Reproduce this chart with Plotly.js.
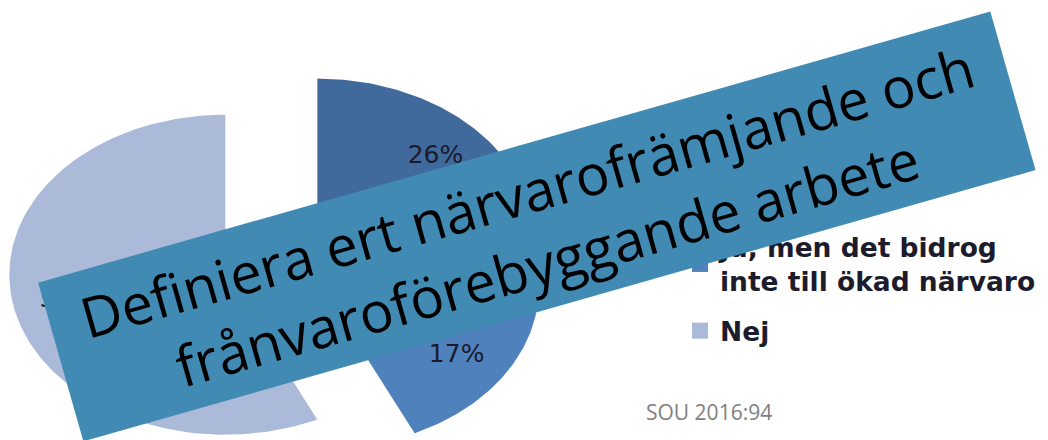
<!DOCTYPE html>
<html><head><meta charset="utf-8">
<script src="https://cdn.plot.ly/plotly-3.0.1.min.js"></script>
<style>html,body{margin:0;padding:0;background:#fff;}#chart{width:1048px;height:440px;}</style>
</head><body><div id="chart"></div>
<script>
const categories = ["Ja, och det bidrog till ökad närvaro", "Ja, men det bidrog inte till ökad närvaro", "Nej"];
const legendLabels = ["Ja, och det bidrog<br>till ökad närvaro", "Ja, men det bidrog<br>inte till ökad närvaro", "Nej"];
const legendBoxes = ["legend2", "legend", "legend"];
const values = [26, 17, 57];
const sliceColors = ["#406A9B", "#4F81BD", "#AABAD8"];
const bannerText = "Definiera ert närvarofrämjande och<br>frånvaroförebyggande arbete";
const sourceText = "SOU 2016:94";

const PULL = 0.25, LABEL_R = 0.75;
const total = values.reduce((a, b) => a + b, 0);
let cum = 0;
const traces = [];
const lx = [], ly = [], lt = [];
values.forEach((v, i) => {
  const a0 = cum / total * 2 * Math.PI; cum += v; const a1 = cum / total * 2 * Math.PI;
  const mid = (a0 + a1) / 2;
  const ox = PULL * Math.sin(mid), oy = PULL * Math.cos(mid);
  const xs = [ox], ys = [oy];
  const n = Math.max(8, Math.ceil((a1 - a0) / (Math.PI / 180)));
  for (let k = 0; k <= n; k++) { const a = a0 + (a1 - a0) * k / n; xs.push(ox + Math.sin(a)); ys.push(oy + Math.cos(a)); }
  xs.push(ox); ys.push(oy);
  traces.push({type: 'scatter', x: xs, y: ys, mode: 'lines', fill: 'toself', fillcolor: sliceColors[i],
    line: {width: 0, color: sliceColors[i]}, showlegend: false, hoverinfo: 'skip', name: categories[i]});
  lx.push(ox + LABEL_R * Math.sin(mid)); ly.push(oy + LABEL_R * Math.cos(mid));
  lt.push(Math.round(v / total * 100) + '%');
});
traces.push({type: 'scatter', x: lx, y: ly, text: lt, mode: 'text', showlegend: false, hoverinfo: 'skip',
  textfont: {family: 'DejaVu Sans', size: 25, color: '#1a1a2a'}});
values.forEach((v, i) => {
  traces.push({type: 'scatter', x: [null], y: [null], mode: 'markers', name: legendLabels[i], legendgroup: 'g' + i,
    legend: legendBoxes[i], marker: {symbol: 'square', size: 16, color: sliceColors[i]}, hoverinfo: 'skip'});
});

const CX = 278, CY = 266, RX = 216, RY = 160, W = 1048, H = 440;
const legendFont = {family: 'DejaVu Sans', size: 26.5, color: '#1c1c2c', weight: 'bold'};
const layout = {
  width: W, height: H,
  margin: {l: 0, r: 0, t: 0, b: 0},
  paper_bgcolor: '#ffffff', plot_bgcolor: '#ffffff',
  xaxis: {range: [-CX / RX, (W - CX) / RX], visible: false, fixedrange: true},
  yaxis: {range: [-(H - CY) / RY, CY / RY], visible: false, fixedrange: true},
  showlegend: true,
  legend: {x: 680 / W, xanchor: 'left', y: 1 - 223 / H, yanchor: 'top', tracegroupgap: 12,
    bgcolor: 'rgba(0,0,0,0)', font: legendFont},
  legend2: {x: 680 / W, xanchor: 'left', y: 1 - 110 / H, yanchor: 'top',
    bgcolor: 'rgba(0,0,0,0)', font: legendFont},
  annotations: [
    {xref: 'paper', yref: 'paper', x: 709 / W, y: 1 - 412 / H, xanchor: 'center', yanchor: 'middle',
      text: sourceText, showarrow: false, font: {family: 'Open Sans', size: 21, color: '#7f7f7f'}},
    {xref: 'paper', yref: 'paper', x: 536.5 / W, y: 1 - 227 / H, xanchor: 'center', yanchor: 'middle',
      text: bannerText, showarrow: false, textangle: -15.9, bgcolor: '#418AB3', width: 990, height: 165,
      borderpad: 0, borderwidth: 0, align: 'center',
      font: {family: 'Open Sans', size: 56, color: '#000000'}}
  ]
};
Plotly.newPlot('chart', traces, layout, {displayModeBar: false, staticPlot: true});
</script>
</body></html>
